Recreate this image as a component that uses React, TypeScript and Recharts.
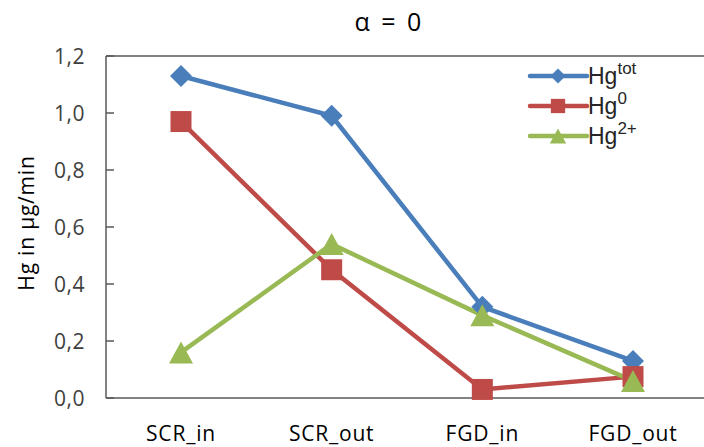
import React from 'react';
import { LineChart, Line, XAxis, YAxis, Legend, ReferenceLine } from 'recharts';

const categories = ['SCR_in', 'SCR_out', 'FGD_in', 'FGD_out'];
const hgTot = [1.13, 0.99, 0.32, 0.13];
const hg0 = [0.97, 0.45, 0.03, 0.075];
const hg2 = [0.16, 0.54, 0.29, 0.06];
const yTicks = [0, 0.2, 0.4, 0.6, 0.8, 1.0, 1.2];
const seriesNames = ['tot', '0', '2+'];
const seriesKeys = ['hgTot', 'hg0', 'hg2'];
const seriesColors = ['#4A7EBB', '#BE4B48', '#98B954'];
const seriesShapes = ['diamond', 'square', 'triangle'];

const data = categories.map((c, i) => ({ name: c, hgTot: hgTot[i], hg0: hg0[i], hg2: hg2[i] }));

const AXIS = '#595959';
const FONT = '"Open Sans", sans-serif';

function Marker({ shape, cx, cy, color, s = 1 }: any) {
  if (cx == null || cy == null) return null;
  if (shape === 'diamond') {
    const r = 11 * s;
    return <polygon points={`${cx},${cy - r} ${cx + r},${cy} ${cx},${cy + r} ${cx - r},${cy}`} fill={color} />;
  }
  if (shape === 'square') {
    const h = 10.5 * s;
    return <rect x={cx - h} y={cy - h} width={2 * h} height={2 * h} fill={color} />;
  }
  return <polygon points={`${cx},${cy - 11 * s} ${cx + 12 * s},${cy + 11 * s} ${cx - 12 * s},${cy + 11 * s}`} fill={color} />;
}

const makeDot = (shape: string, color: string) => (props: any) => (
  <Marker key={`${shape}-${props.index}`} shape={shape} cx={props.cx} cy={props.cy} color={color} />
);

function YTick(props: any) {
  const { x, y, payload } = props;
  return (
    <g>
      <line x1={x + 21} x2={x + 29} y1={y} y2={y} stroke={AXIS} strokeWidth={1.5} />
      <text x={x} y={y} dy="0.36em" textAnchor="end" fill="#404040" fontSize={21} letterSpacing={0.5} fontFamily={FONT}>
        {payload.value.toFixed(1).replace('.', ',')}
      </text>
    </g>
  );
}

function LegendContent() {
  return (
    <svg width={180} height={110}>
      {seriesNames.map((n, i) => {
        const cy = 21 + i * 30;
        return (
          <g key={n}>
            <line x1={5} x2={62} y1={cy} y2={cy} stroke={seriesColors[i]} strokeWidth={4.5} strokeLinecap="round" />
            <Marker shape={seriesShapes[i]} cx={33} cy={cy} color={seriesColors[i]} s={0.68} />
            <text x={63} y={cy + 8} fontSize={23} fontFamily='"Liberation Sans", Arial, sans-serif' fill="#262626">
              Hg
              <tspan fontSize={17} dy={-10}>{n}</tspan>
            </text>
          </g>
        );
      })}
    </svg>
  );
}

function YLabel(props: any) {
  const { viewBox } = props;
  const cx = 27;
  const cy = viewBox.y + viewBox.height / 2 - 4;
  return (
    <text x={cx} y={cy} transform={`rotate(-90 ${cx} ${cy})`} textAnchor="middle" dy="0.35em" fontSize={21} letterSpacing={0.8} fontFamily={FONT} fill="#000">
      Hg in µg/min
    </text>
  );
}

export default function App() {
  return (
    <div style={{ position: 'fixed', left: 0, top: 0, width: 704, height: 447, overflow: 'hidden', background: '#fff' }}>
      <div style={{ position: 'absolute', left: 0, top: 4, width: 776, textAlign: 'center', fontFamily: FONT, fontSize: 25, wordSpacing: 5, color: '#000', lineHeight: '34px' }}>
        α = 0
      </div>
      <LineChart width={720} height={447} data={data} margin={{ top: 56, right: 12, bottom: 9, left: 0 }}>
        <XAxis
          dataKey="name"
          height={40}
          padding={{ left: 75, right: 75 }}
          axisLine={{ stroke: AXIS, strokeWidth: 1.5 }}
          tickLine={false}
          tickSize={0}
          tickMargin={28}
          tick={{ fontSize: 21, fontFamily: FONT, fill: '#000', letterSpacing: 0.8 }}
          interval={0}
        />
        <YAxis
          width={106}
          domain={[0, 1.2]}
          ticks={yTicks}
          axisLine={{ stroke: AXIS, strokeWidth: 1.5 }}
          tickLine={false}
          tickSize={0}
          tickMargin={21}
          tick={<YTick />}
          label={{ content: (p: any) => <YLabel {...p} /> }}
          interval={0}
        />
        <ReferenceLine y={1.2} stroke={AXIS} strokeWidth={1.5} />
        <Legend
          layout="vertical"
          align="center"
          verticalAlign="middle"
          wrapperStyle={{ left: 525, top: 55, width: 180, height: 110 }}
          content={() => <LegendContent />}
        />
        {seriesKeys.map((k, i) => (
          <Line
            key={k}
            dataKey={k}
            stroke={seriesColors[i]}
            strokeWidth={4.5}
            isAnimationActive={false}
            dot={makeDot(seriesShapes[i], seriesColors[i])}
            activeDot={false}
          />
        ))}
      </LineChart>
    </div>
  );
}
